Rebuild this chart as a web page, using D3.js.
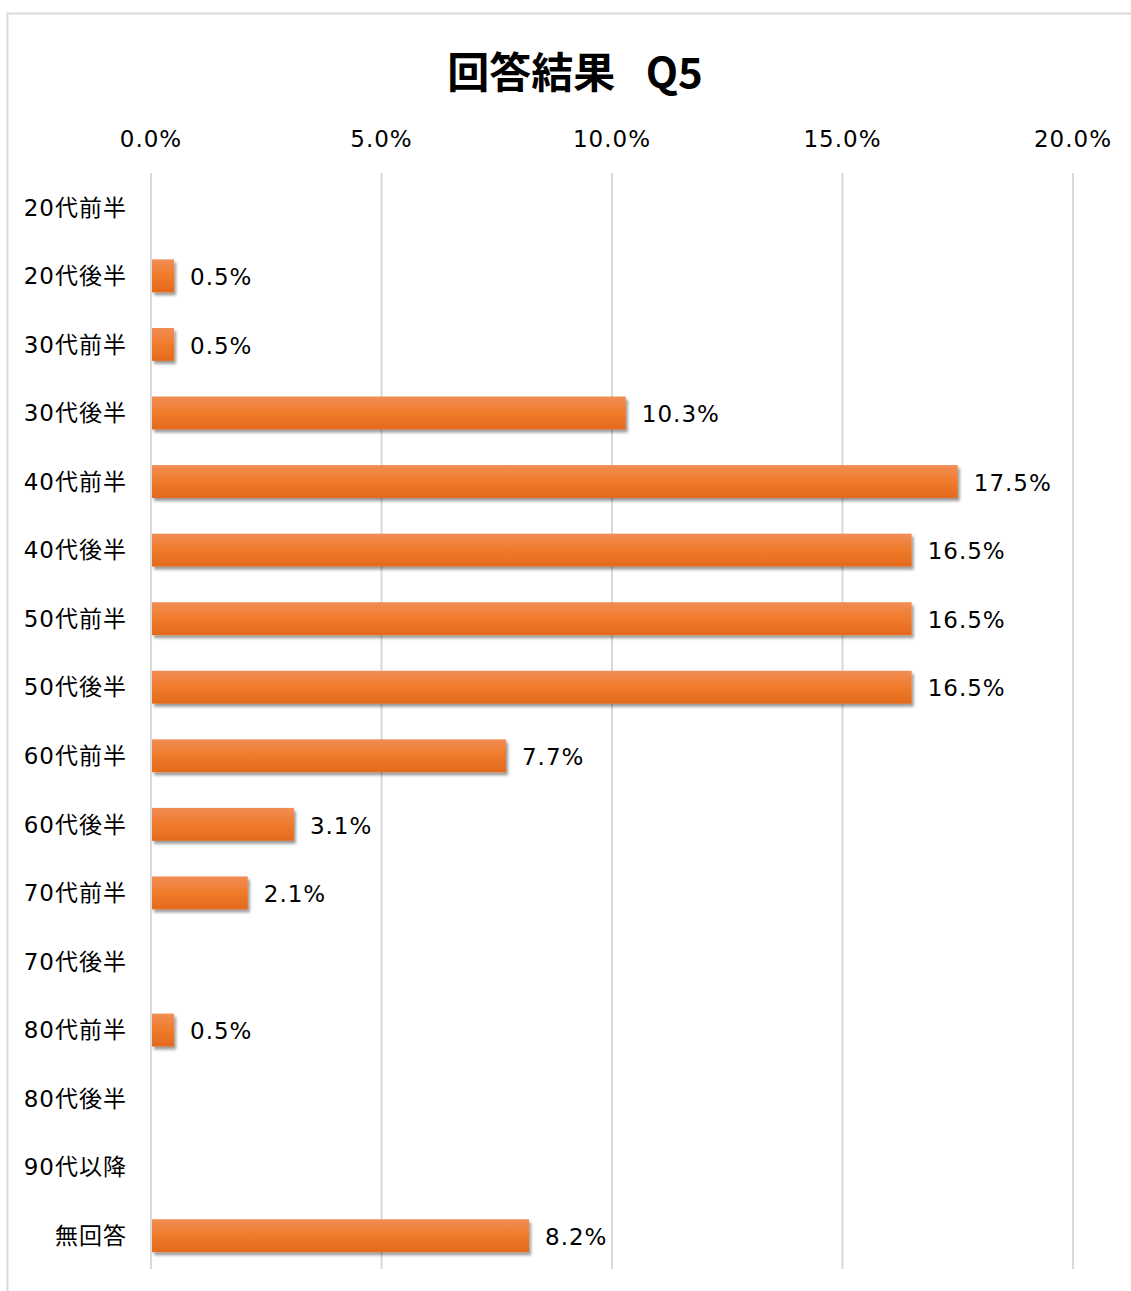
<!DOCTYPE html>
<meta charset="utf-8">
<style>
body { margin: 0; background: #fff; }
.title { font-family: "Noto Sans CJK JP", sans-serif; font-weight: bold; font-size: 42px; }
.tick-label, .cat-label, .val-label { font-family: "DejaVu Sans", Verdana, "Noto Sans CJK JP", sans-serif; font-size: 23px; letter-spacing: 1px; fill: #000; }
.grid line { stroke: #d9d9d9; stroke-width: 2px; }
</style>
<svg width="1131" height="1291"></svg>
<script src="https://d3js.org/d3.v7.min.js"></script>
<script>

var categories = ["20代前半", "20代後半", "30代前半", "30代後半", "40代前半", "40代後半",
  "50代前半", "50代後半", "60代前半", "60代後半", "70代前半", "70代後半",
  "80代前半", "80代後半", "90代以降", "無回答"];
var values = [0, 0.005, 0.005, 0.103, 0.175, 0.165, 0.165, 0.165, 0.077, 0.031, 0.021, 0, 0.005, 0, 0, 0.082];
var tickValues = [0, 0.05, 0.10, 0.15, 0.20];
var titleText = "回答結果\u2002 Q5";

var svg = d3.select("svg");

// chart frame
svg.append("rect")
    .attr("x", 7.5).attr("y", 13.5)
    .attr("width", 1140).attr("height", 1300)
    .attr("fill", "#fff")
    .attr("stroke", "#d9d9d9")
    .attr("stroke-width", 2);

var defs = svg.append("defs");
var grad = defs.append("linearGradient")
    .attr("id", "barGrad")
    .attr("x1", 0).attr("y1", 0).attr("x2", 0).attr("y2", 1);
grad.append("stop").attr("offset", "0%").attr("stop-color", "#f18d55");
grad.append("stop").attr("offset", "50%").attr("stop-color", "#f07b2b");
grad.append("stop").attr("offset", "100%").attr("stop-color", "#e3691c");

var shadow = defs.append("filter")
    .attr("id", "shadow")
    .attr("x", "-10%").attr("y", "-30%").attr("width", "130%").attr("height", "180%");
shadow.append("feDropShadow")
    .attr("dx", 2).attr("dy", 3)
    .attr("stdDeviation", 1.6)
    .attr("flood-color", "#000")
    .attr("flood-opacity", 0.4);

var x = d3.scaleLinear()
    .domain([0, 0.2])
    .range([151, 1073]);

var y = d3.scaleBand()
    .domain(categories)
    .range([173, 1270])
    .paddingInner(0.52)
    .paddingOuter(0.26);

svg.append("text")
    .attr("class", "title")
    .attr("x", 575)
    .attr("y", 88)
    .attr("text-anchor", "middle")
    .text(titleText);

// gridlines
svg.append("g")
    .attr("class", "grid")
    .selectAll("line")
    .data(tickValues)
    .enter().append("line")
    .attr("x1", function(d) { return x(d); })
    .attr("x2", function(d) { return x(d); })
    .attr("y1", 173)
    .attr("y2", 1269);

// top tick labels
svg.append("g")
    .selectAll("text")
    .data(tickValues)
    .enter().append("text")
    .attr("class", "tick-label")
    .attr("x", function(d) { return x(d); })
    .attr("y", 147)
    .attr("text-anchor", "middle")
    .text(function(d) { return d3.format(".1%")(d); });

// category labels
svg.append("g")
    .selectAll("text")
    .data(categories)
    .enter().append("text")
    .attr("class", "cat-label")
    .attr("x", 127)
    .attr("y", function(d) { return y(d) + y.bandwidth() / 2; })
    .attr("dy", "0.36em")
    .attr("text-anchor", "end")
    .text(function(d) { return d; });

var rows = categories.map(function(c, i) { return {cat: c, val: values[i]}; });

svg.append("g")
    .selectAll("rect")
    .data(rows.filter(function(d) { return d.val > 0; }))
    .enter().append("rect")
    .attr("x", x(0) + 1)
    .attr("y", function(d) { return y(d.cat); })
    .attr("width", function(d) { return x(d.val) - x(0) - 1; })
    .attr("height", y.bandwidth())
    .attr("fill", "url(#barGrad)")
    .attr("filter", "url(#shadow)");

svg.append("g")
    .selectAll("text")
    .data(rows.filter(function(d) { return d.val > 0; }))
    .enter().append("text")
    .attr("class", "val-label")
    .attr("x", function(d) { return x(d.val) + 16; })
    .attr("y", function(d) { return y(d.cat) + y.bandwidth() / 2; })
    .attr("dy", "0.4em")
    .text(function(d) { return d3.format(".1%")(d.val); });

</script>
